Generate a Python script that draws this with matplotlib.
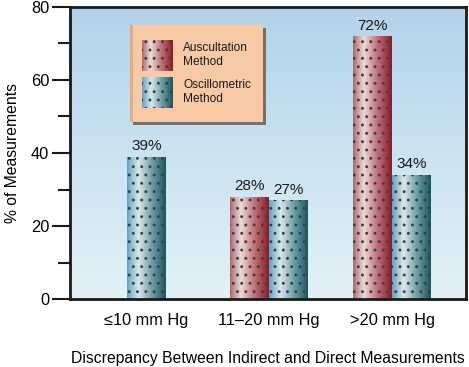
import numpy as np
import matplotlib
matplotlib.use("Agg")
import matplotlib.pyplot as plt
from matplotlib.colors import LinearSegmentedColormap
from matplotlib.patches import Rectangle

plt.rcParams['font.family'] = ['Liberation Sans', 'DejaVu Sans']
plt.rcParams['hatch.linewidth'] = 0.9

categories = ['≤10 mm Hg', '11–20 mm Hg', '>20 mm Hg']
auscultation = [None, 28, 72]
oscillometric = [39, 27, 34]
series_names = ['Auscultation\nMethod', 'Oscillometric\nMethod']
yticks = [0, 20, 40, 60, 80]

ausc_cmap = LinearSegmentedColormap.from_list(
    'ausc', [(0, '#ab6a6e'), (0.28, '#eedad8'), (0.6, '#c27880'), (1, '#8c1a2a')])
osc_cmap = LinearSegmentedColormap.from_list(
    'osc', [(0, '#62a2c4'), (0.3, '#dde7ec'), (0.62, '#74a2aa'), (1, '#1a565f')])
bg_cmap = LinearSegmentedColormap.from_list('bg', ['#e3f2f8', '#b3d3ea'])

fig = plt.figure(figsize=(4.69, 3.67), dpi=100)
ax = fig.add_axes([70/469, 68/367, 396/469, 292/367])
ax.set_xlim(-0.62, 2.6)
ax.set_ylim(0, 80)

# background gradient
bg = np.linspace(0, 1, 256).reshape(-1, 1)
ax.imshow(bg, cmap=bg_cmap, origin='lower', aspect='auto',
          extent=(-0.62, 2.6, 0, 80), zorder=0)

width = 0.315
grad = np.linspace(0, 1, 256).reshape(1, -1)

def draw_bar(x, h, cmap):
    b = ax.bar(x, h, width=width, facecolor='none', edgecolor='none', zorder=2)[0]
    im = ax.imshow(grad, cmap=cmap, aspect='auto', origin='lower',
                   extent=(x - width/2, x + width/2, 0, h), zorder=2)
    im.set_clip_path(b)
    ax.bar(x, h, width=width, facecolor='none', edgecolor='#34443f', linewidth=0,
           hatch='..', zorder=3)
    ax.text(x, h + 1.0, f'{h}%', ha='center', va='bottom', fontsize=11, color='#1a1a1a')

for i in range(len(categories)):
    a = auscultation[i]
    o = oscillometric[i]
    if a is None:
        draw_bar(i, o, osc_cmap)
    else:
        draw_bar(i - width/2, a, ausc_cmap)
        draw_bar(i + width/2, o, osc_cmap)

ax.set_yticks(yticks)
ax.set_yticks([10, 30, 50, 70], minor=True)
ax.tick_params(axis='y', which='major', length=13, width=1.5, labelsize=11.8,
               color='#1a1a1a', pad=2)
ax.tick_params(axis='y', which='minor', length=9, width=1.5, color='#1a1a1a')
ax.set_xticks(range(len(categories)))
ax.set_xticklabels(categories, fontsize=11.8)
ax.tick_params(axis='x', length=0, pad=10)
for s in ax.spines.values():
    s.set_linewidth(2)
    s.set_color('#1a1a1a')
ax.set_ylabel('% of Measurements', fontsize=11.3, labelpad=8)
ax.set_xlabel('Discrepancy Between Indirect and Direct Measurements', fontsize=11.3,
              labelpad=17)

# legend drawn in pixel coordinates
lax = fig.add_axes([0, 0, 1, 1], zorder=10)
lax.set_xlim(0, 469)
lax.set_ylim(367, 0)
lax.axis('off')
lax.add_patch(Rectangle((133, 28), 133, 97, facecolor='#7d6f68', edgecolor='none'))
lax.add_patch(Rectangle((130, 25), 133, 97, facecolor='#f7c9a5', edgecolor='none'))
lax.add_patch(Rectangle((130, 25), 3, 97, facecolor='#dcae8e', edgecolor='none'))
swg = np.linspace(0, 1, 256).reshape(1, -1)
for (y0, cmap, name) in [(40, ausc_cmap, series_names[0]), (77, osc_cmap, series_names[1])]:
    lax.imshow(swg, cmap=cmap, aspect='auto', extent=(142, 173, y0 + 31, y0), zorder=11)
    lax.add_patch(Rectangle((142, y0), 31, 31, facecolor='none', edgecolor='#34443f',
                            linewidth=0, hatch='..', zorder=12))
    lax.text(183, y0 + 15, name, ha='left', va='center', fontsize=8.6,
             linespacing=1.25, color='#1a1a1a', zorder=12)

fig.savefig('out.png', dpi=100)
